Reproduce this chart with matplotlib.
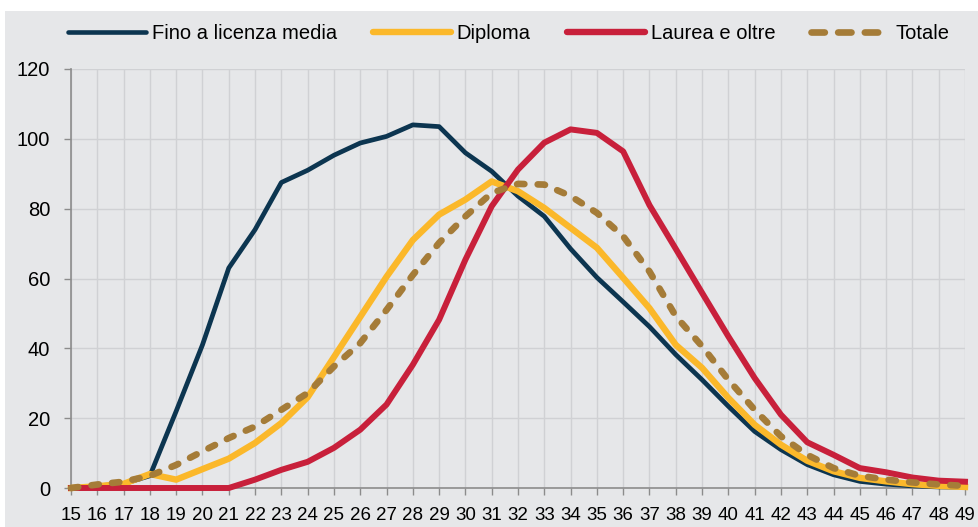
import matplotlib
matplotlib.use("Agg")
import matplotlib.pyplot as plt
from matplotlib.lines import Line2D
from matplotlib.patches import Rectangle

plt.rcParams['font.family'] = ['Liberation Sans', 'DejaVu Sans']

ages = list(range(15, 50))

fino_licenza_media = [0, 0.6, 1.2, 3.5, 22, 41, 63, 74, 87.5, 91, 95.3, 98.8, 100.7, 104,
                      103.5, 96, 90.7, 83.6, 77.8, 68.5, 60.3, 53.3, 46.2, 38.2, 31, 23.4,
                      16.2, 11, 6.7, 3.8, 1.9, 1.1, 0.6, 0.3, 0.2]
diploma = [0, 0.5, 1.2, 4, 2.4, 5.4, 8.4, 12.9, 18.6, 26, 37.5, 49, 60.5, 71, 78.3, 82.6,
           87.8, 85, 80.2, 74.5, 68.8, 60.2, 51.5, 41, 34.4, 25.8, 18.1, 12.4, 7.8, 4.8,
           2.9, 1.9, 1.1, 0.6, 0.3]
laurea_e_oltre = [0, 0, 0, 0, 0, 0, 0, 2.4, 5.2, 7.5, 11.5, 16.7, 23.9, 35.3, 48.2, 65.4,
                  80.7, 91.2, 98.9, 102.7, 101.7, 96.4, 81, 68.5, 55.9, 43.4, 31.5, 21,
                  13.1, 9.5, 5.7, 4.5, 3, 2.1, 1.8]
totale = [0, 1, 1.8, 3.5, 6.6, 10.5, 14.3, 17.6, 22.4, 27.2, 34.8, 41.5, 51, 61, 70.2,
          77.8, 84.5, 87.1, 86.9, 83.6, 78.8, 72.1, 62, 49.2, 40.6, 31, 22.4, 14.8, 9.5,
          5.7, 3.5, 2.4, 1.6, 1.0, 0.6]

labels = ["Fino a licenza media", "Diploma", "Laurea e oltre", "Totale"]
colors = ["#0c3550", "#fbb82a", "#c8203b", "#a57c38"]
panel = "#e6e7e9"
grid_c = "#d0d1d4"
spine_c = "#8c8c8c"

fig = plt.figure(figsize=(9.79, 5.27), dpi=100, facecolor="white")
fig.patches.append(Rectangle((5 / 979, 0), 1, 516 / 527, transform=fig.transFigure,
                             facecolor=panel, edgecolor="none", zorder=-10))
ax = fig.add_axes([71 / 979, 39 / 527, 894 / 979, 419 / 527])
ax.set_facecolor(panel)

ax.plot(ages, fino_licenza_media, color=colors[0], lw=3.4, clip_on=False, zorder=3)
ax.plot(ages, diploma, color=colors[1], lw=4.6, clip_on=False, zorder=4)
ax.plot(ages, laurea_e_oltre, color=colors[2], lw=4.3, clip_on=False, zorder=5)
ax.plot(ages, totale, color=colors[3], lw=4.8, clip_on=False, zorder=6,
        dashes=(1.1, 2.0), dash_capstyle="round")

ax.set_xlim(15, 49)
ax.set_ylim(0, 120)
ax.set_xticks(ages)
ax.set_yticks(range(0, 121, 20))
ax.grid(True, color=grid_c, lw=1)
ax.set_axisbelow(True)
for s in ["top", "right"]:
    ax.spines[s].set_visible(False)
for s in ["left", "bottom"]:
    ax.spines[s].set_color(spine_c)
    ax.spines[s].set_linewidth(1.2)
ax.tick_params(axis="x", length=5, width=1, color=spine_c, labelsize=13.5, pad=9)
ax.tick_params(axis="y", length=5, width=1, color=spine_c, labelsize=14.5, pad=10)

handles = [
    Line2D([], [], color=colors[0], lw=3.3, solid_capstyle="round"),
    Line2D([], [], color=colors[1], lw=4.6, solid_capstyle="round"),
    Line2D([], [], color=colors[2], lw=4.6, solid_capstyle="round"),
    Line2D([], [], color=colors[3], lw=4.8, dashes=(2, 2), dash_capstyle="round"),
]
fig.legend(handles, labels, loc="center", bbox_to_anchor=(0.5194, 1 - 34 / 527), ncol=4,
           frameon=False, fontsize=14.5, handlelength=3.87, handletextpad=0.3,
           columnspacing=1.78)

fig.savefig("out.png", dpi=100, facecolor="white")
